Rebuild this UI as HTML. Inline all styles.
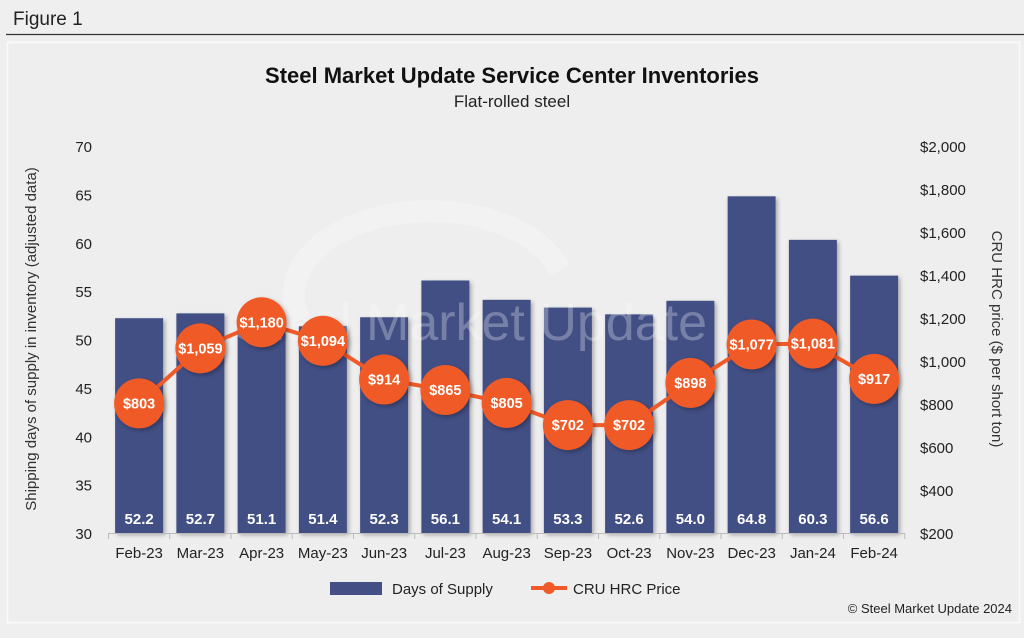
<!DOCTYPE html>
<html><head><meta charset="utf-8"><style>
body{margin:0;width:1024px;height:633px;background:#efefef;font-family:"Liberation Sans",sans-serif;overflow:hidden}
</style></head><body>
<svg width="1024" height="633" xmlns="http://www.w3.org/2000/svg" font-family="Liberation Sans, sans-serif">
<defs><filter id="sh" x="-20%" y="-20%" width="150%" height="150%"><feDropShadow dx="2" dy="2" stdDeviation="2" flood-color="#000" flood-opacity="0.3"/></filter></defs>
<rect x="0" y="0" width="1024" height="633" fill="#efefef"/>
<text x="13" y="25" font-size="19" fill="#222">Figure 1</text>
<line x1="6" y1="34.5" x2="1024" y2="34.5" stroke="#333" stroke-width="1.2"/>
<rect x="7.5" y="42.5" width="1012" height="580" fill="#eeeeee" stroke="#fafafa" stroke-width="1.5"/>
<text x="512" y="83" text-anchor="middle" font-size="22" font-weight="bold" fill="#111">Steel Market Update Service Center Inventories</text>
<text x="512" y="107" text-anchor="middle" font-size="17" fill="#222">Flat-rolled steel</text>
<g id="leftAxis"></g><g id="rightAxis"></g><g id="bars"></g>
<g opacity="0.28">
<path d="M300,320 A130,80 0 0 1 560,270" fill="none" stroke="#fff" stroke-width="22"/>
<text x="470" y="340" text-anchor="middle" font-size="52" fill="#fff">Steel Market Update</text>
</g>
<g id="line"></g><g id="xAxis"></g>
<text transform="translate(36,339) rotate(-90)" text-anchor="middle" font-size="15" fill="#333">Shipping days of supply in inventory (adjusted data)</text>
<text transform="translate(992,339) rotate(90)" text-anchor="middle" font-size="15" fill="#333">CRU HRC price ($ per short ton)</text>
<g>
<rect x="330" y="582" width="52" height="13" fill="#434f85"/>
<text x="392" y="594" font-size="15" fill="#222">Days of Supply</text>
<line x1="531" y1="588" x2="567" y2="588" stroke="#f05a28" stroke-width="4"/>
<circle cx="549" cy="588" r="6" fill="#f05a28"/>
<text x="573" y="594" font-size="15" fill="#222">CRU HRC Price</text>
</g>
<text x="1012" y="613" text-anchor="end" font-size="13" fill="#222">© Steel Market Update 2024</text>
</svg>
<script>
const categories=["Feb-23","Mar-23","Apr-23","May-23","Jun-23","Jul-23","Aug-23","Sep-23","Oct-23","Nov-23","Dec-23","Jan-24","Feb-24"];
const daysOfSupply=[52.2,52.7,51.1,51.4,52.3,56.1,54.1,53.3,52.6,54.0,64.8,60.3,56.6];
const hrcPrice=[803,1059,1180,1094,914,865,805,702,702,898,1077,1081,917];
const leftTicks=[30,35,40,45,50,55,60,65,70];
const rightTicks=[200,400,600,800,1000,1200,1400,1600,1800,2000];
const NS="http://www.w3.org/2000/svg";
const top0=146,bot=533,x0=108.5,step=61.25;
const yL=v=>bot-(v-30)/40*(bot-top0);
const yR=v=>bot-(v-200)/1800*(bot-top0);
const xC=i=>x0+step*(i+0.5);
function mk(tag,attrs,parent,text){const e=document.createElementNS(NS,tag);for(const k in attrs)e.setAttribute(k,attrs[k]);if(text!==undefined)e.textContent=text;document.getElementById(parent).appendChild(e);return e;}
leftTicks.forEach(v=>{const t=mk('text',{x:92,y:yL(v)+6,'text-anchor':'end','font-size':15,fill:'#222'},'leftAxis',v);

});
rightTicks.forEach(v=>{const t=mk('text',{x:920,y:yR(v)+6,'font-size':15,fill:'#222'},'rightAxis','$'+v.toLocaleString('en-US'));

});
daysOfSupply.forEach((v,i)=>{const r=mk('rect',{x:xC(i)-24,y:yL(v),width:48,height:bot-yL(v),fill:'#434f85',filter:'url(#sh)'},'bars');


const t=mk('text',{x:xC(i),y:bot-9,'text-anchor':'middle','font-size':15,'font-weight':'bold',fill:'#fff'},'bars',v.toFixed(1));

});
mk('line',{x1:x0,y1:bot+0.5,x2:x0+step*13,y2:bot+0.5,stroke:'#bbb'},'xAxis');
categories.forEach((c,i)=>{mk('line',{x1:x0+step*i,y1:bot,x2:x0+step*i,y2:bot+6,stroke:'#bbb'},'xAxis');
const t=mk('text',{x:xC(i),y:bot+25,'text-anchor':'middle','font-size':15,fill:'#222'},'xAxis',c);

});
mk('line',{x1:x0+step*13,y1:bot,x2:x0+step*13,y2:bot+6,stroke:'#bbb'},'xAxis');
const pl=mk('polyline',{points:hrcPrice.map((v,i)=>xC(i)+','+yR(v)).join(' '),fill:'none',stroke:'#f05a28','stroke-width':4},'line');


hrcPrice.forEach((v,i)=>{const c=mk('circle',{cx:xC(i),cy:yR(v),r:25,fill:'#f05a28',filter:'url(#sh)'},'line');


const t=mk('text',{x:xC(i),y:yR(v)+5,'text-anchor':'middle','font-size':14.5,'font-weight':'bold',fill:'#fff'},'line','$'+v.toLocaleString('en-US'));

});
</script>
</body></html>
